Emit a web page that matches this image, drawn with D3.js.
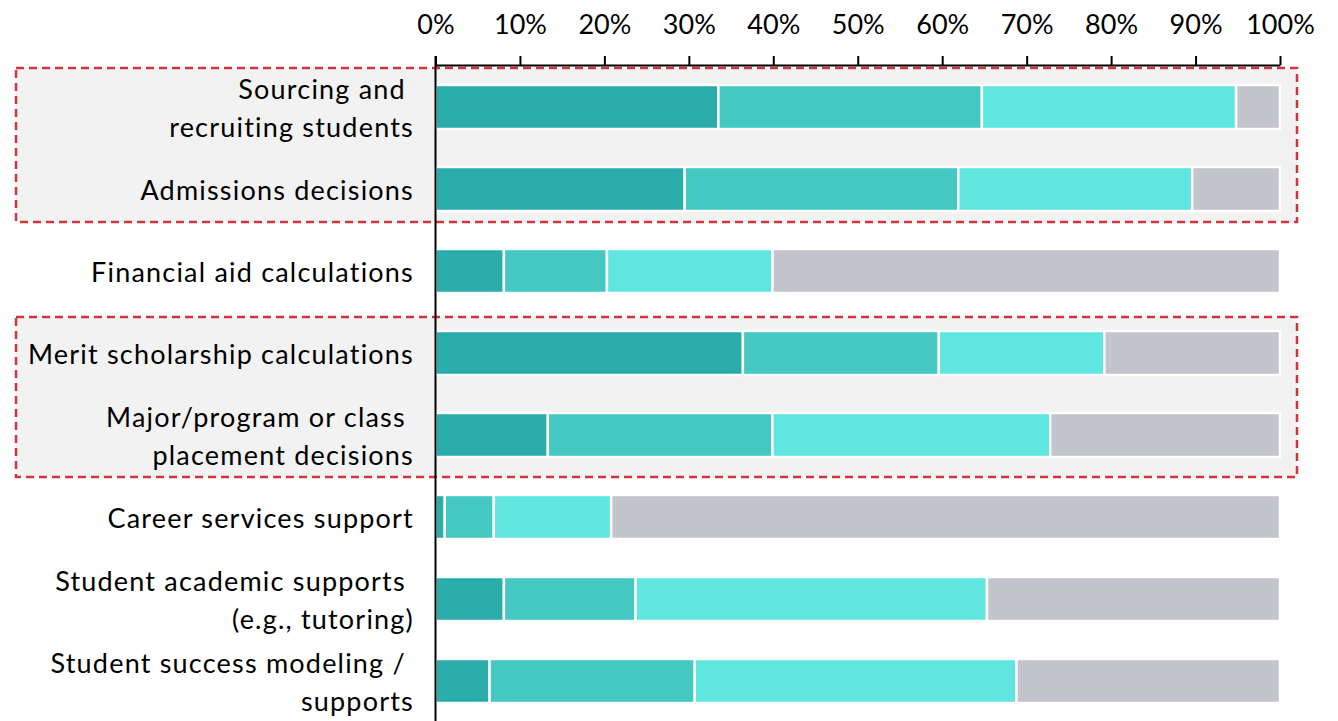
<!DOCTYPE html>
<html>
<head>
<meta charset="utf-8">
<script src="https://cdn.jsdelivr.net/npm/d3@7"></script>
<style>
  html, body { margin: 0; padding: 0; background: #fff; }
  svg { display: block; }
</style>
</head>
<body>
<svg id="chart" width="1338" height="721"></svg>
<script>
// ---- data ----
const categories = [
  "Sourcing and |recruiting students",
  "Admissions decisions",
  "Financial aid calculations",
  "Merit scholarship calculations",
  "Major/program or class |placement decisions",
  "Career services support",
  "Student academic supports |(e.g., tutoring)",
  "Student success modeling / |supports"
];
const seriesKeys = ["s1", "s2", "s3", "s4"];
const s1 = [33.5, 29.5, 8.1, 36.4, 13.3, 1.1, 8.1, 6.4];
const s2 = [31.2, 32.4, 12.2, 23.2, 26.6, 5.8, 15.6, 24.3];
const s3 = [30.1, 27.7, 19.6, 19.6, 32.9, 13.9, 41.6, 38.1];
const s4 = [5.2, 10.4, 60.1, 20.8, 27.2, 79.2, 34.7, 31.2];
const tickValues = [0, 10, 20, 30, 40, 50, 60, 70, 80, 90, 100];
const highlightGroups = [[0, 1], [3, 4]];
const colors = ["#29ACAA", "#43C8C2", "#5FE6E0", "#C4C4CC"];

// ---- build table ----
const rows = categories.map((c, i) => ({ cat: c, s1: s1[i], s2: s2[i], s3: s3[i], s4: s4[i] }));
const stacked = d3.stack().keys(seriesKeys)(rows);

const svg = d3.select("#chart");
const FONT = "Lato, 'Open Sans', sans-serif";

const x = d3.scaleLinear().domain([0, 100]).range([435.5, 1280]);
const y = d3.scaleBand().domain(categories).range([66, 722]).paddingInner(0.463).paddingOuter(0.2315);
const bw = y.bandwidth();

// highlight boxes
const boxPads = [[17, 11], [14, 20]];
highlightGroups.forEach((g, i) => {
  const top = y(categories[g[0]]) - boxPads[i][0];
  const bottom = y(categories[g[g.length - 1]]) + bw + boxPads[i][1];
  svg.append("rect")
    .attr("x", 16).attr("y", top)
    .attr("width", 1297 - 16).attr("height", bottom - top)
    .attr("fill", "#F2F2F2")
    .attr("stroke", "#D0343C")
    .attr("stroke-width", 2.5)
    .attr("stroke-dasharray", "8,5");
});

// bars
const layer = svg.append("g").selectAll("g").data(stacked).join("g")
  .attr("fill", (d, i) => colors[i]);
layer.selectAll("rect").data(d => d).join("rect")
  .attr("x", d => x(d[0]))
  .attr("y", d => y(d.data.cat))
  .attr("width", d => Math.max(0, x(d[1]) - x(d[0])))
  .attr("height", bw)
  .attr("stroke", "#fff")
  .attr("stroke-width", 2.5);

// top axis
const axis = d3.axisTop(x).tickValues(tickValues).tickFormat(d => d + "%").tickSize(9).tickSizeOuter(0);
const ax = svg.append("g").attr("transform", "translate(0,65)").call(axis);
ax.select(".domain").attr("stroke", "#000").attr("stroke-width", 2);
ax.selectAll(".tick line").attr("stroke", "#000").attr("stroke-width", 2);
ax.selectAll(".tick text")
  .attr("font-family", FONT).attr("font-size", 27).attr("fill", "#000")
  .attr("y", -31).attr("dy", 0);

// vertical axis line
svg.append("line")
  .attr("x1", x(0)).attr("x2", x(0))
  .attr("y1", 56).attr("y2", 721)
  .attr("stroke", "#000").attr("stroke-width", 2);

// category labels
const lineH = 38.5;
const labels = svg.append("g");
categories.forEach(c => {
  const lines = c.split("|");
  const cy = y(c) + bw / 2;
  const t = labels.append("text")
    .attr("font-family", FONT).attr("font-size", 27).attr("fill", "#000")
    .attr("letter-spacing", 1.2)
    .attr("text-anchor", "end")
    .style("white-space", "pre");
  lines.forEach((ln, j) => {
    t.append("tspan")
      .attr("x", 414)
      .attr("y", cy + 11 + (j - (lines.length - 1) / 2) * lineH)
      .text(ln);
  });
});
</script>
</body>
</html>
